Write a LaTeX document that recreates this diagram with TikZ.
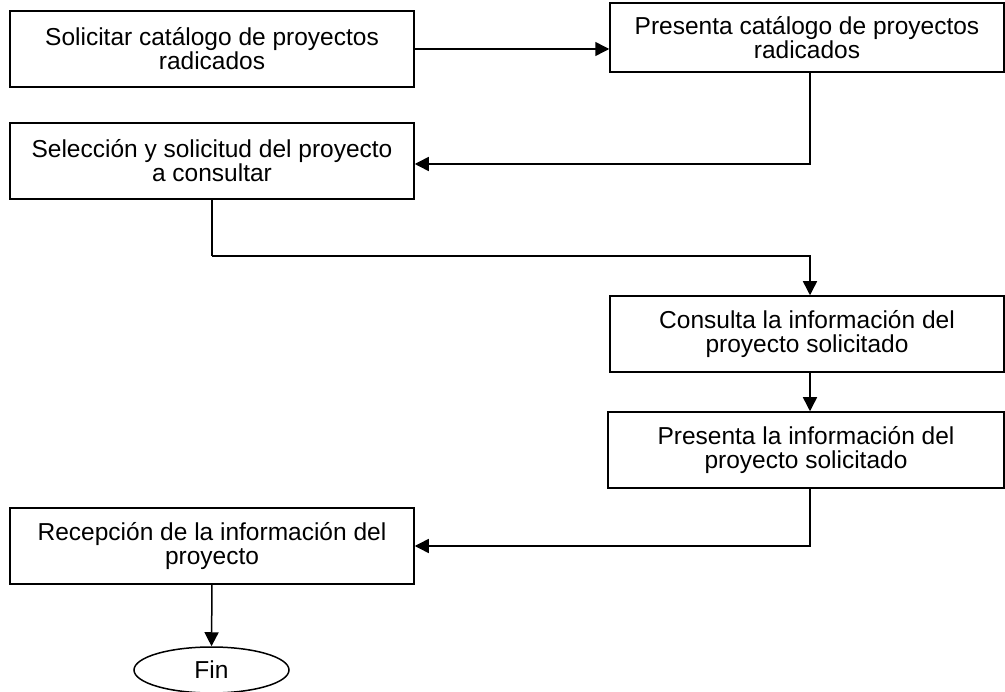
\documentclass[tikz,border=0pt]{standalone}
\usepackage{fontspec}
\setmainfont{Liberation Sans}
\usetikzlibrary{arrows.meta,shapes.geometric}
\begin{document}
\begin{tikzpicture}[x=1pt,y=-1pt,
  proc/.style={draw,line width=1.5pt,rectangle,minimum height=76pt,inner sep=0pt,align=center,font=\fontsize{24.5}{24}\selectfont},
  term/.style={draw,line width=1.5pt,ellipse,minimum width=155pt,minimum height=46pt,inner sep=0pt,font=\fontsize{24.5}{24}\selectfont},
  conn/.style={line width=1.5pt,-{Triangle[length=14pt,width=14pt]}}]
\useasboundingbox (0,0) rectangle (1005,692);
\node[proc,minimum width=404pt] (b1) at (212,49) {Solicitar catálogo de proyectos\\radicados};
\node[proc,minimum width=394pt,minimum height=69pt] (b2) at (807,37.5) {Presenta catálogo de proyectos\\radicados};
\node[proc,minimum width=404pt] (b3) at (212,161) {Selección y solicitud del proyecto\\a consultar};
\node[proc,minimum width=394pt] (b4) at (807,334) {Consulta la información del\\proyecto solicitado};
\node[proc,minimum width=396pt] (b5) at (806,450) {Presenta la información del\\proyecto solicitado};
\node[proc,minimum width=404pt] (b6) at (212,546) {Recepción de la información del\\proyecto};
\node[term] (fin) at (211.5,670) {Fin};
\coordinate (xr) at (810,0);
\coordinate (k1) at (212,256);
\draw[conn] (b1.east) -- (b2.west |- b1.east);
\draw[conn] (b2.south -| xr) |- ([yshift=-3pt]b3.east);
\draw[line width=1.5pt] (b3.south) -- (k1);
\draw[conn] (k1) -| (b4.north -| xr);
\draw[conn] (b4.south -| xr) -- (b5.north -| xr);
\draw[conn] (b5.south -| xr) |- (b6.east);
\draw[conn] (b6.south) -- (fin.north);
\end{tikzpicture}
\end{document}
